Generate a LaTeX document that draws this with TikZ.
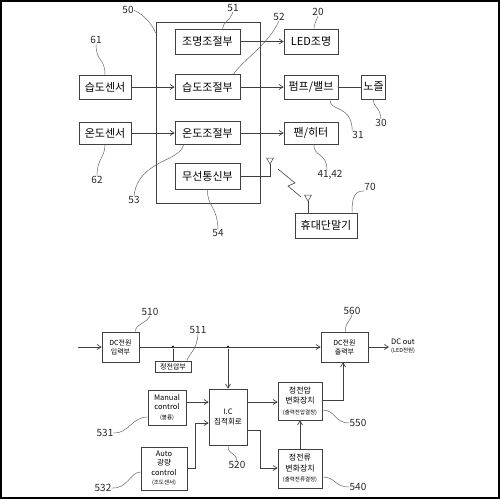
\documentclass[tikz,border=0pt]{standalone}
\usepackage{fontspec}
\setmainfont{Noto Sans CJK KR}
\usetikzlibrary{arrows.meta}
\tikzset{
  ln/.style={draw=black!75, line width=0.7pt},
  arr/.style={ln, -{Straight Barb[length=4pt,width=5pt]}},
  lead/.style={draw=black!60, line width=0.5pt},
  bigfont/.style={font=\fontsize{11}{13}\selectfont},
  box/.style={ln, inner sep=0pt, align=center, fill=white},
  tbox/.style={box, bigfont, minimum width=65pt, minimum height=25pt},
  num/.style={inner sep=0pt, font=\fontsize{10}{12}\selectfont, text=black!85},
  sfont/.style={font=\fontsize{7.5}{9.5}\selectfont},
  dot/.style={circle, fill=black, inner sep=0pt, minimum size=2.6pt},
}
\newcommand{\tinyl}[1]{{\fontsize{5.5}{7}\selectfont #1}}
\begin{document}
\begin{tikzpicture}[x=1pt,y=-1pt]
\useasboundingbox (0,0) rectangle (500,500);
\draw[line width=1.2pt] (1,1) rectangle (499,498);

% ---------------- top diagram ----------------
\node[ln, minimum width=104pt, minimum height=181pt, inner sep=0pt] (b50) at (208,112.5) {};
\node[tbox] (b51) at (207.5,41.5) {조명조절부};
\node[tbox] (b52) at (207.5,87) {습도조절부};
\node[tbox, minimum height=23pt] (b53) at (207.5,133) {온도조절부};
\node[tbox, minimum height=26pt] (b54) at (207.5,176) {무선통신부};
\node[box, bigfont, minimum width=52pt, minimum height=24pt] (s61) at (105,87) {습도센서};
\node[box, bigfont, minimum width=52pt, minimum height=22pt] (s62) at (105,133) {온도센서};
\node[box, bigfont, minimum width=54pt, minimum height=25pt] (d20) at (311,41.5) {LED조명};
\node[box, bigfont, minimum width=54pt, minimum height=24pt] (d31) at (311,87) {펌프/밸브};
\node[box, bigfont, minimum width=24pt, minimum height=24pt] (d30) at (373.5,87) {노즐};
\node[box, bigfont, minimum width=54pt, minimum height=22pt] (d41) at (311,133) {팬/히터};
\node[box, bigfont, minimum width=62pt, minimum height=25pt] (d70) at (326,225.5) {휴대단말기};

\draw[arr] (b51) -- (d20);
\draw[arr] (s61) -- (b52);
\draw[arr] (b52) -- (d31);
\draw[ln] (d31) -- (d30);
\draw[arr] (s62) -- (b53);
\draw[arr] (b53) -- (d41);

% antennas and wireless link
\coordinate (ant1) at (270,164);
\coordinate (ant2) at (308,201);
\draw[ln] (b54.east) -| (ant1);
\draw[ln, line width=0.5pt] (ant1) -- ++(-3.5,-6) -- ++(7,0) -- cycle;
\draw[ln] (d70.north -| ant2) -- (ant2);
\draw[ln, line width=0.5pt] (ant2) -- ++(-3.5,-6) -- ++(7,0) -- cycle;
\draw[ln, line width=0.6pt] (278,169) -- (295,183) -- (288,186) -- (301,197);

% labels and leaders
\node[num] (l50) at (128,10) {50};
\node[num] (l51) at (233,8) {51};
\node[num] (l52) at (279,17) {52};
\node[num] (l20) at (318,12) {20};
\node[num] (l61) at (96,40) {61};
\node[num] (l30) at (381,123) {30};
\node[num] (l31) at (358,135) {31};
\node[num] (l62) at (97,180) {62};
\node[num] (l53) at (134,200) {53};
\node[num] (l41) at (330,175) {41,42};
\node[num] (l54) at (218,233) {54};
\node[num] (l70) at (370,187) {70};

\draw[lead] (l50.east) .. controls (145,15) and (153,26) .. (b50.north west |- 0,33);
\draw[lead] (l51.south) .. controls (230,21) and (223,22) .. ([xshift=15pt]b51.north);
\draw[lead] (l52.south) .. controls (268,45) and (243,60) .. ([xshift=26pt]b52.north);
\draw[lead] (l20.south) .. controls (316,22) and (314,24) .. ([xshift=3pt]d20.north);
\draw[lead] (l61.south) .. controls (96,62) and (105,58) .. (s61.north);
\draw[lead] (l30.north) .. controls (380,106) and (373,108) .. (d30.south);
\draw[lead] ([xshift=19pt]d31.south) .. controls (329,112) and (352,104) .. (l31.north west);
\draw[lead] (s62.south) .. controls (105,158) and (97,158) .. (l62.north);
\draw[lead] ([xshift=-24pt]b53.south) .. controls (180,162) and (138,160) .. (l53.north);
\draw[lead] ([xshift=3pt]d41.south) .. controls (313,157) and (327,152) .. ([xshift=-3pt]l41.north);
\draw[lead] (b54.south) .. controls (207,207) and (217,205) .. (l54.north);
\draw[lead] (l70.south west) .. controls (355,191) and (352,196) .. ([xshift=26pt]d70.north);

% ---------------- bottom diagram ----------------
\node[box, sfont, font=\fontsize{7}{9}\selectfont, minimum width=37pt, minimum height=30pt] (p510) at (120.5,347) {DC전원\\입력부};
\node[box, font=\fontsize{7}{8}\selectfont, minimum width=36pt, minimum height=11pt] (p511) at (173,366.5) {정전압부};
\node[box, font=\fontsize{7}{9}\selectfont, minimum width=47pt, minimum height=30pt] (p560) at (344.5,347) {DC전원\\출력부};
\node[box, sfont, minimum width=38pt, minimum height=56pt] (p520) at (228,417) {I.C\\집적회로};
\node[box, sfont, minimum width=38pt, minimum height=35pt] (p531) at (167,407.5) {Manual\\control\\\tinyl{(볼륨)}};
\node[box, sfont, minimum width=46pt, minimum height=43pt] (p532) at (164,468.5) {Auto\\광량\\control\\\tinyl{(조도센서)}};
\node[box, font=\fontsize{8}{10.5}\selectfont, minimum width=44pt, minimum height=38pt] (p550) at (300,401) {정전압\\변화장치\\\tinyl{(출력전압결정)}};
\node[box, font=\fontsize{8}{10.5}\selectfont, minimum width=44pt, minimum height=39pt] (p540) at (300,468.5) {정전류\\변화장치\\\tinyl{(출력전류결정)}};

\coordinate (inp) at (78,347);
\coordinate (outp) at (389,347);
\node[anchor=west, inner sep=0pt, align=left, font=\fontsize{7.5}{9}\selectfont] (dcout) at (391,346) {DC out\\[-1pt]\tinyl{(LED전원)}};
\node[dot] (j1) at (173,347) {};
\node[dot] (j2) at (228,347) {};

\draw[arr] (inp) -- (p510.west);
\draw[arr] (p510.east) -- (p560.west);
\draw[arr] (p560.east) -- (outp);
\draw[ln] (j1) -- (p511.north);
\draw[arr] (j2) -- (p520.north);
\draw[arr] (p531.east |- 0,402) -- (p520.west |- 0,402);
\draw[arr] (p532.east) -| (195,423) -- (p520.west |- 0,423);
\draw[arr] (p520.east |- 0,402) -- (p550.west |- 0,402);
\draw[arr] (p520.east |- 0,430) -| (260,468) -- (p540.west |- 0,468);
\draw[arr] (p540.north) -- (p550.south);
\draw[arr] (p550.east |- 0,400) -| (p560.south -| 343,0);

\node[num] (l510) at (150,312) {510};
\node[num] (l511) at (198,330) {511};
\node[num] (l560) at (352,311) {560};
\node[num] (l520) at (237,465) {520};
\node[num] (l531) at (105,433) {531};
\node[num] (l532) at (103,488) {532};
\node[num] (l550) at (358,423) {550};
\node[num] (l540) at (358,487) {540};

\draw[lead] ([xshift=15pt]p510.north) .. controls (135,324) and (146,324) .. (l510.south);
\draw[lead] ([xshift=14pt]p511.north) .. controls (190,352) and (197,350) .. (l511.south);
\draw[lead] ([xshift=1pt]p560.north) .. controls (345,322) and (350,322) .. (l560.south);
\draw[lead] (p520.south) .. controls (228,456) and (235,450) .. (l520.north);
\draw[lead] (l531.east) .. controls (128,434) and (132,417) .. (p531.west |- 0,417);
\draw[lead] (l532.east) .. controls (128,489) and (130,472) .. (p532.west |- 0,472);
\draw[lead] (p550.east |- 0,410) .. controls (336,410) and (334,423) .. (l550.west);
\draw[lead] (p540.east |- 0,477) .. controls (336,477) and (334,487) .. (l540.west);
\end{tikzpicture}
\end{document}
